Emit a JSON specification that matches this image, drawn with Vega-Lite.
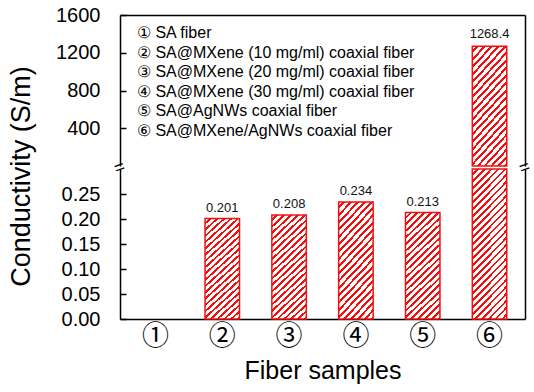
{
 "$schema": "https://vega.github.io/schema/vega-lite/v6.json",
 "padding": {"left": 6, "top": 5, "right": 0, "bottom": 3},
 "data": {"values": [
   {"sample": "①", "value": null, "name": "① SA fiber"},
   {"sample": "②", "value": 0.201, "name": "② SA@MXene (10 mg/ml) coaxial fiber"},
   {"sample": "③", "value": 0.208, "name": "③ SA@MXene (20 mg/ml) coaxial fiber"},
   {"sample": "④", "value": 0.234, "name": "④ SA@MXene (30 mg/ml) coaxial fiber"},
   {"sample": "⑤", "value": 0.213, "name": "⑤ SA@AgNWs coaxial fiber"},
   {"sample": "⑥", "value": 1268.4, "name": "⑥ SA@MXene/AgNWs coaxial fiber"}
 ]},
 "spacing": 3,
 "bounds": "flush",
 "vconcat": [
  {
   "width": 405,
   "height": 151,
   "layer": [
    {
     "transform": [{"filter": "datum.sample === '⑥'"}],
     "mark": {"type": "bar", "stroke": "#f01010", "strokeWidth": 1.5,
      "fill": {"gradient": "linear", "x1": 0, "y1": 0, "x2": 0.48, "y2": 1.537, "stops": [
{"offset":0,"color":"#ffffff"},{"offset":0.0222,"color":"#ffffff"},{"offset":0.0222,"color":"#f01010"},{"offset":0.037,"color":"#f01010"},
{"offset":0.037,"color":"#ffffff"},{"offset":0.0593,"color":"#ffffff"},{"offset":0.0593,"color":"#f01010"},{"offset":0.0741,"color":"#f01010"},
{"offset":0.0741,"color":"#ffffff"},{"offset":0.0963,"color":"#ffffff"},{"offset":0.0963,"color":"#f01010"},{"offset":0.1111,"color":"#f01010"},
{"offset":0.1111,"color":"#ffffff"},{"offset":0.1333,"color":"#ffffff"},{"offset":0.1333,"color":"#f01010"},{"offset":0.1481,"color":"#f01010"},
{"offset":0.1481,"color":"#ffffff"},{"offset":0.1704,"color":"#ffffff"},{"offset":0.1704,"color":"#f01010"},{"offset":0.1852,"color":"#f01010"},
{"offset":0.1852,"color":"#ffffff"},{"offset":0.2074,"color":"#ffffff"},{"offset":0.2074,"color":"#f01010"},{"offset":0.2222,"color":"#f01010"},
{"offset":0.2222,"color":"#ffffff"},{"offset":0.2444,"color":"#ffffff"},{"offset":0.2444,"color":"#f01010"},{"offset":0.2593,"color":"#f01010"},
{"offset":0.2593,"color":"#ffffff"},{"offset":0.2815,"color":"#ffffff"},{"offset":0.2815,"color":"#f01010"},{"offset":0.2963,"color":"#f01010"},
{"offset":0.2963,"color":"#ffffff"},{"offset":0.3185,"color":"#ffffff"},{"offset":0.3185,"color":"#f01010"},{"offset":0.3333,"color":"#f01010"},
{"offset":0.3333,"color":"#ffffff"},{"offset":0.3556,"color":"#ffffff"},{"offset":0.3556,"color":"#f01010"},{"offset":0.3704,"color":"#f01010"},
{"offset":0.3704,"color":"#ffffff"},{"offset":0.3926,"color":"#ffffff"},{"offset":0.3926,"color":"#f01010"},{"offset":0.4074,"color":"#f01010"},
{"offset":0.4074,"color":"#ffffff"},{"offset":0.4296,"color":"#ffffff"},{"offset":0.4296,"color":"#f01010"},{"offset":0.4444,"color":"#f01010"},
{"offset":0.4444,"color":"#ffffff"},{"offset":0.4667,"color":"#ffffff"},{"offset":0.4667,"color":"#f01010"},{"offset":0.4815,"color":"#f01010"},
{"offset":0.4815,"color":"#ffffff"},{"offset":0.5037,"color":"#ffffff"},{"offset":0.5037,"color":"#f01010"},{"offset":0.5185,"color":"#f01010"},
{"offset":0.5185,"color":"#ffffff"},{"offset":0.5407,"color":"#ffffff"},{"offset":0.5407,"color":"#f01010"},{"offset":0.5556,"color":"#f01010"},
{"offset":0.5556,"color":"#ffffff"},{"offset":0.5778,"color":"#ffffff"},{"offset":0.5778,"color":"#f01010"},{"offset":0.5926,"color":"#f01010"},
{"offset":0.5926,"color":"#ffffff"},{"offset":0.6148,"color":"#ffffff"},{"offset":0.6148,"color":"#f01010"},{"offset":0.6296,"color":"#f01010"},
{"offset":0.6296,"color":"#ffffff"},{"offset":0.6519,"color":"#ffffff"},{"offset":0.6519,"color":"#f01010"},{"offset":0.6667,"color":"#f01010"},
{"offset":0.6667,"color":"#ffffff"},{"offset":0.6889,"color":"#ffffff"},{"offset":0.6889,"color":"#f01010"},{"offset":0.7037,"color":"#f01010"},
{"offset":0.7037,"color":"#ffffff"},{"offset":0.7259,"color":"#ffffff"},{"offset":0.7259,"color":"#f01010"},{"offset":0.7407,"color":"#f01010"},
{"offset":0.7407,"color":"#ffffff"},{"offset":0.763,"color":"#ffffff"},{"offset":0.763,"color":"#f01010"},{"offset":0.7778,"color":"#f01010"},
{"offset":0.7778,"color":"#ffffff"},{"offset":0.8,"color":"#ffffff"},{"offset":0.8,"color":"#f01010"},{"offset":0.8148,"color":"#f01010"},
{"offset":0.8148,"color":"#ffffff"},{"offset":0.837,"color":"#ffffff"},{"offset":0.837,"color":"#f01010"},{"offset":0.8519,"color":"#f01010"},
{"offset":0.8519,"color":"#ffffff"},{"offset":0.8741,"color":"#ffffff"},{"offset":0.8741,"color":"#f01010"},{"offset":0.8889,"color":"#f01010"},
{"offset":0.8889,"color":"#ffffff"},{"offset":0.9111,"color":"#ffffff"},{"offset":0.9111,"color":"#f01010"},{"offset":0.9259,"color":"#f01010"},
{"offset":0.9259,"color":"#ffffff"},{"offset":0.9481,"color":"#ffffff"},{"offset":0.9481,"color":"#f01010"},{"offset":0.963,"color":"#f01010"},
{"offset":0.963,"color":"#ffffff"},{"offset":0.9852,"color":"#ffffff"},{"offset":0.9852,"color":"#f01010"},{"offset":1,"color":"#f01010"}
      ]}},
     "encoding": {
      "x": {"field": "sample", "type": "nominal",
            "scale": {"domain": ["①","②","③","④","⑤","⑥"], "paddingInner": 0.484, "paddingOuter": 0.273},
            "axis": {"orient": "top", "labels": false, "ticks": false, "title": null}},
      "y": {"field": "value", "type": "quantitative",
            "scale": {"domain": [0, 1600], "nice": false},
            "axis": {"values": [400, 800, 1200, 1600], "format": "d", "tickSize": -6, "labelPadding": 26, "labelFontSize": 20, "labelOverlap": false, "title": null}}
     }
    },
    {
     "transform": [{"filter": "datum.sample === '⑥'"}],
     "mark": {"type": "text", "fontSize": 13, "baseline": "bottom", "dy": -5, "color": "#111111"},
     "encoding": {
      "x": {"field": "sample", "type": "nominal"},
      "y": {"field": "value", "type": "quantitative",
            "axis": {"orient": "right", "labels": false, "ticks": false, "title": null}},
      "text": {"field": "value", "type": "quantitative", "format": ".1f"}
     }
    },
    {
     "mark": {"type": "point", "opacity": 0},
     "encoding": {
      "x": {"field": "sample", "type": "nominal"},
      "y": {"datum": 800, "type": "quantitative", "axis": null},
      "shape": {"field": "name", "type": "nominal",
                "legend": {"title": null, "orient": "none", "legendX": 1, "legendY": 10,
                           "labelFontSize": 16, "labelColor": "#000000", "labelFont": "Liberation Sans",
                           "symbolSize": 0, "symbolOpacity": 0, "symbolStrokeWidth": 0,
                           "labelOffset": 0, "padding": 0, "rowPadding": 3.5, "labelLimit": 400}}
     }
    }
   ],
   "resolve": {"axis": {"y": "independent"}}
  },
  {
   "width": 405,
   "height": 150,
   "layer": [
    {
     "layer": [
      {
       "transform": [{"filter": "datum.sample !== '⑥'"}],
       "mark": {"type": "bar", "stroke": "#f01010", "strokeWidth": 1.5,
        "fill": {"gradient": "linear", "x1": 0, "y1": 0, "x2": 0.48, "y2": 1.537, "stops": [
{"offset":0,"color":"#ffffff"},{"offset":0.0222,"color":"#ffffff"},{"offset":0.0222,"color":"#f01010"},{"offset":0.037,"color":"#f01010"},
{"offset":0.037,"color":"#ffffff"},{"offset":0.0593,"color":"#ffffff"},{"offset":0.0593,"color":"#f01010"},{"offset":0.0741,"color":"#f01010"},
{"offset":0.0741,"color":"#ffffff"},{"offset":0.0963,"color":"#ffffff"},{"offset":0.0963,"color":"#f01010"},{"offset":0.1111,"color":"#f01010"},
{"offset":0.1111,"color":"#ffffff"},{"offset":0.1333,"color":"#ffffff"},{"offset":0.1333,"color":"#f01010"},{"offset":0.1481,"color":"#f01010"},
{"offset":0.1481,"color":"#ffffff"},{"offset":0.1704,"color":"#ffffff"},{"offset":0.1704,"color":"#f01010"},{"offset":0.1852,"color":"#f01010"},
{"offset":0.1852,"color":"#ffffff"},{"offset":0.2074,"color":"#ffffff"},{"offset":0.2074,"color":"#f01010"},{"offset":0.2222,"color":"#f01010"},
{"offset":0.2222,"color":"#ffffff"},{"offset":0.2444,"color":"#ffffff"},{"offset":0.2444,"color":"#f01010"},{"offset":0.2593,"color":"#f01010"},
{"offset":0.2593,"color":"#ffffff"},{"offset":0.2815,"color":"#ffffff"},{"offset":0.2815,"color":"#f01010"},{"offset":0.2963,"color":"#f01010"},
{"offset":0.2963,"color":"#ffffff"},{"offset":0.3185,"color":"#ffffff"},{"offset":0.3185,"color":"#f01010"},{"offset":0.3333,"color":"#f01010"},
{"offset":0.3333,"color":"#ffffff"},{"offset":0.3556,"color":"#ffffff"},{"offset":0.3556,"color":"#f01010"},{"offset":0.3704,"color":"#f01010"},
{"offset":0.3704,"color":"#ffffff"},{"offset":0.3926,"color":"#ffffff"},{"offset":0.3926,"color":"#f01010"},{"offset":0.4074,"color":"#f01010"},
{"offset":0.4074,"color":"#ffffff"},{"offset":0.4296,"color":"#ffffff"},{"offset":0.4296,"color":"#f01010"},{"offset":0.4444,"color":"#f01010"},
{"offset":0.4444,"color":"#ffffff"},{"offset":0.4667,"color":"#ffffff"},{"offset":0.4667,"color":"#f01010"},{"offset":0.4815,"color":"#f01010"},
{"offset":0.4815,"color":"#ffffff"},{"offset":0.5037,"color":"#ffffff"},{"offset":0.5037,"color":"#f01010"},{"offset":0.5185,"color":"#f01010"},
{"offset":0.5185,"color":"#ffffff"},{"offset":0.5407,"color":"#ffffff"},{"offset":0.5407,"color":"#f01010"},{"offset":0.5556,"color":"#f01010"},
{"offset":0.5556,"color":"#ffffff"},{"offset":0.5778,"color":"#ffffff"},{"offset":0.5778,"color":"#f01010"},{"offset":0.5926,"color":"#f01010"},
{"offset":0.5926,"color":"#ffffff"},{"offset":0.6148,"color":"#ffffff"},{"offset":0.6148,"color":"#f01010"},{"offset":0.6296,"color":"#f01010"},
{"offset":0.6296,"color":"#ffffff"},{"offset":0.6519,"color":"#ffffff"},{"offset":0.6519,"color":"#f01010"},{"offset":0.6667,"color":"#f01010"},
{"offset":0.6667,"color":"#ffffff"},{"offset":0.6889,"color":"#ffffff"},{"offset":0.6889,"color":"#f01010"},{"offset":0.7037,"color":"#f01010"},
{"offset":0.7037,"color":"#ffffff"},{"offset":0.7259,"color":"#ffffff"},{"offset":0.7259,"color":"#f01010"},{"offset":0.7407,"color":"#f01010"},
{"offset":0.7407,"color":"#ffffff"},{"offset":0.763,"color":"#ffffff"},{"offset":0.763,"color":"#f01010"},{"offset":0.7778,"color":"#f01010"},
{"offset":0.7778,"color":"#ffffff"},{"offset":0.8,"color":"#ffffff"},{"offset":0.8,"color":"#f01010"},{"offset":0.8148,"color":"#f01010"},
{"offset":0.8148,"color":"#ffffff"},{"offset":0.837,"color":"#ffffff"},{"offset":0.837,"color":"#f01010"},{"offset":0.8519,"color":"#f01010"},
{"offset":0.8519,"color":"#ffffff"},{"offset":0.8741,"color":"#ffffff"},{"offset":0.8741,"color":"#f01010"},{"offset":0.8889,"color":"#f01010"},
{"offset":0.8889,"color":"#ffffff"},{"offset":0.9111,"color":"#ffffff"},{"offset":0.9111,"color":"#f01010"},{"offset":0.9259,"color":"#f01010"},
{"offset":0.9259,"color":"#ffffff"},{"offset":0.9481,"color":"#ffffff"},{"offset":0.9481,"color":"#f01010"},{"offset":0.963,"color":"#f01010"},
{"offset":0.963,"color":"#ffffff"},{"offset":0.9852,"color":"#ffffff"},{"offset":0.9852,"color":"#f01010"},{"offset":1,"color":"#f01010"}
        ]}},
       "encoding": {
        "x": {"field": "sample", "type": "nominal",
              "scale": {"domain": ["①","②","③","④","⑤","⑥"], "paddingInner": 0.484, "paddingOuter": 0.273},
              "axis": {"orient": "bottom", "ticks": false, "labelAngle": 0, "labelFontSize": 27, "labelPadding": 4,
                       "labelFont": "Noto Sans CJK JP",
                       "title": "Fiber samples", "titleFontSize": 25, "titlePadding": 9}},
        "y": {"field": "value", "type": "quantitative",
              "scale": {"domain": [0, 0.3], "nice": false, "clamp": true},
              "axis": {"values": [0, 0.05, 0.1, 0.15, 0.2, 0.25], "format": ".2f", "tickSize": -6, "labelPadding": 26,
                       "labelFontSize": 20, "labelOverlap": false,
                       "title": "Conductivity (S/m)", "titleFontSize": 27, "titleX": -99, "titleY": 7,
                       "titleAlign": "center", "titleBaseline": "middle", "titleAngle": -90}}
       }
      },
      {
       "transform": [{"filter": "datum.sample === '⑥'"}],
       "mark": {"type": "bar", "stroke": "#f01010", "strokeWidth": 1.5,
        "fill": {"gradient": "linear", "x1": 0, "y1": 0, "x2": 0.279, "y2": 1.195, "stops": [
{"offset":0,"color":"#ffffff"},{"offset":0.0222,"color":"#ffffff"},{"offset":0.0222,"color":"#f01010"},{"offset":0.037,"color":"#f01010"},
{"offset":0.037,"color":"#ffffff"},{"offset":0.0593,"color":"#ffffff"},{"offset":0.0593,"color":"#f01010"},{"offset":0.0741,"color":"#f01010"},
{"offset":0.0741,"color":"#ffffff"},{"offset":0.0963,"color":"#ffffff"},{"offset":0.0963,"color":"#f01010"},{"offset":0.1111,"color":"#f01010"},
{"offset":0.1111,"color":"#ffffff"},{"offset":0.1333,"color":"#ffffff"},{"offset":0.1333,"color":"#f01010"},{"offset":0.1481,"color":"#f01010"},
{"offset":0.1481,"color":"#ffffff"},{"offset":0.1704,"color":"#ffffff"},{"offset":0.1704,"color":"#f01010"},{"offset":0.1852,"color":"#f01010"},
{"offset":0.1852,"color":"#ffffff"},{"offset":0.2074,"color":"#ffffff"},{"offset":0.2074,"color":"#f01010"},{"offset":0.2222,"color":"#f01010"},
{"offset":0.2222,"color":"#ffffff"},{"offset":0.2444,"color":"#ffffff"},{"offset":0.2444,"color":"#f01010"},{"offset":0.2593,"color":"#f01010"},
{"offset":0.2593,"color":"#ffffff"},{"offset":0.2815,"color":"#ffffff"},{"offset":0.2815,"color":"#f01010"},{"offset":0.2963,"color":"#f01010"},
{"offset":0.2963,"color":"#ffffff"},{"offset":0.3185,"color":"#ffffff"},{"offset":0.3185,"color":"#f01010"},{"offset":0.3333,"color":"#f01010"},
{"offset":0.3333,"color":"#ffffff"},{"offset":0.3556,"color":"#ffffff"},{"offset":0.3556,"color":"#f01010"},{"offset":0.3704,"color":"#f01010"},
{"offset":0.3704,"color":"#ffffff"},{"offset":0.3926,"color":"#ffffff"},{"offset":0.3926,"color":"#f01010"},{"offset":0.4074,"color":"#f01010"},
{"offset":0.4074,"color":"#ffffff"},{"offset":0.4296,"color":"#ffffff"},{"offset":0.4296,"color":"#f01010"},{"offset":0.4444,"color":"#f01010"},
{"offset":0.4444,"color":"#ffffff"},{"offset":0.4667,"color":"#ffffff"},{"offset":0.4667,"color":"#f01010"},{"offset":0.4815,"color":"#f01010"},
{"offset":0.4815,"color":"#ffffff"},{"offset":0.5037,"color":"#ffffff"},{"offset":0.5037,"color":"#f01010"},{"offset":0.5185,"color":"#f01010"},
{"offset":0.5185,"color":"#ffffff"},{"offset":0.5407,"color":"#ffffff"},{"offset":0.5407,"color":"#f01010"},{"offset":0.5556,"color":"#f01010"},
{"offset":0.5556,"color":"#ffffff"},{"offset":0.5778,"color":"#ffffff"},{"offset":0.5778,"color":"#f01010"},{"offset":0.5926,"color":"#f01010"},
{"offset":0.5926,"color":"#ffffff"},{"offset":0.6148,"color":"#ffffff"},{"offset":0.6148,"color":"#f01010"},{"offset":0.6296,"color":"#f01010"},
{"offset":0.6296,"color":"#ffffff"},{"offset":0.6519,"color":"#ffffff"},{"offset":0.6519,"color":"#f01010"},{"offset":0.6667,"color":"#f01010"},
{"offset":0.6667,"color":"#ffffff"},{"offset":0.6889,"color":"#ffffff"},{"offset":0.6889,"color":"#f01010"},{"offset":0.7037,"color":"#f01010"},
{"offset":0.7037,"color":"#ffffff"},{"offset":0.7259,"color":"#ffffff"},{"offset":0.7259,"color":"#f01010"},{"offset":0.7407,"color":"#f01010"},
{"offset":0.7407,"color":"#ffffff"},{"offset":0.763,"color":"#ffffff"},{"offset":0.763,"color":"#f01010"},{"offset":0.7778,"color":"#f01010"},
{"offset":0.7778,"color":"#ffffff"},{"offset":0.8,"color":"#ffffff"},{"offset":0.8,"color":"#f01010"},{"offset":0.8148,"color":"#f01010"},
{"offset":0.8148,"color":"#ffffff"},{"offset":0.837,"color":"#ffffff"},{"offset":0.837,"color":"#f01010"},{"offset":0.8519,"color":"#f01010"},
{"offset":0.8519,"color":"#ffffff"},{"offset":0.8741,"color":"#ffffff"},{"offset":0.8741,"color":"#f01010"},{"offset":0.8889,"color":"#f01010"},
{"offset":0.8889,"color":"#ffffff"},{"offset":0.9111,"color":"#ffffff"},{"offset":0.9111,"color":"#f01010"},{"offset":0.9259,"color":"#f01010"},
{"offset":0.9259,"color":"#ffffff"},{"offset":0.9481,"color":"#ffffff"},{"offset":0.9481,"color":"#f01010"},{"offset":0.963,"color":"#f01010"},
{"offset":0.963,"color":"#ffffff"},{"offset":0.9852,"color":"#ffffff"},{"offset":0.9852,"color":"#f01010"},{"offset":1,"color":"#f01010"}
        ]}},
       "encoding": {
        "x": {"field": "sample", "type": "nominal"},
        "y": {"field": "value", "type": "quantitative", "axis": null}
       }
      },
      {
       "transform": [{"filter": "datum.sample !== '⑥'"}],
       "mark": {"type": "text", "fontSize": 13, "baseline": "bottom", "dy": -4, "color": "#111111"},
       "encoding": {
        "x": {"field": "sample", "type": "nominal"},
        "y": {"field": "value", "type": "quantitative",
              "axis": {"orient": "right", "labels": false, "ticks": false, "title": null}},
        "text": {"field": "value", "type": "quantitative", "format": ".3f"}
       }
      }
     ],
     "resolve": {"axis": {"y": "independent"}}
    },
    {
     "data": {"values": [{"side": 0}, {"side": 1}]},
     "mark": {"type": "text", "text": "=", "fontSize": 18, "angle": -20, "align": "center", "baseline": "middle", "dy": -1, "color": "#000000"},
     "encoding": {
      "x": {"field": "side", "type": "quantitative", "scale": {"domain": [0, 1], "nice": false}, "axis": null},
      "y": {"datum": 0.3, "type": "quantitative", "axis": null}
     }
    }
   ],
   "resolve": {"scale": {"x": "independent"}, "axis": {"y": "independent"}}
  }
 ],
 "config": {
  "view": {"stroke": null},
  "font": "Liberation Sans",
  "axis": {"domainColor": "#000000", "domainWidth": 1.5, "tickColor": "#000000", "tickWidth": 1.5,
           "labelColor": "#000000", "titleColor": "#000000", "grid": false,
           "labelFont": "Liberation Sans", "titleFont": "Liberation Sans", "titleFontWeight": "normal"}
 }
}
